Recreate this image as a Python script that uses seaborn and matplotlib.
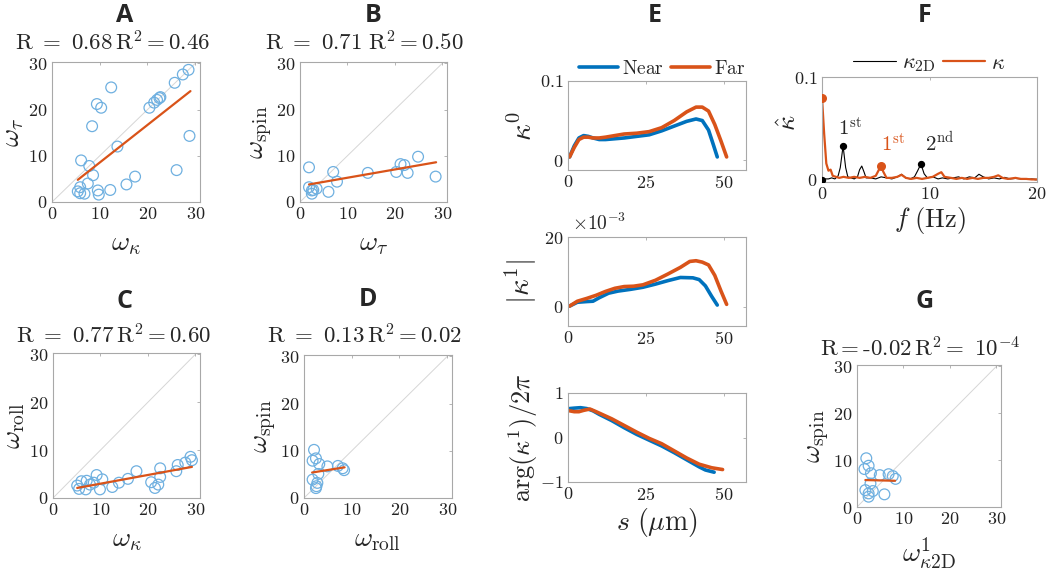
import numpy as np
import pandas as pd
import seaborn as sns
import matplotlib.pyplot as plt
from matplotlib.ticker import FuncFormatter

sns.set_style("white")
plt.rcParams['font.family'] = 'serif'
plt.rcParams['font.serif'] = ['cmr10', 'DejaVu Serif']
plt.rcParams['mathtext.fontset'] = 'cm'
plt.rcParams['axes.formatter.use_mathtext'] = True

BLUE = '#0072BD'
ORANGE = '#D95319'
CIRC = '#6fb0e0'

# ---------------- scatter panels (A-D, G)
a_x = [6.1, 7.8, 8.6, 7.5, 5.9, 5.4, 5.9, 6.8, 9.6, 9.8, 12.2, 13.7, 15.6, 17.4, 20.4, 21.4, 22.0, 22.5,
       22.7, 25.7, 27.4, 28.6, 26.1, 28.8, 9.4, 10.3, 12.4, 8.4]
a_y = [9.0, 7.8, 5.8, 4.0, 3.2, 2.3, 1.9, 1.8, 2.5, 1.6, 2.6, 12.0, 3.8, 5.5, 20.4, 21.5, 22.1, 22.5,
       22.7, 25.8, 27.6, 28.6, 6.9, 14.3, 21.2, 20.4, 24.8, 16.4]
a_fit_x = [5.4, 29.0]
a_fit_y = [4.8, 24.0]

b_x = [1.9, 1.9, 2.5, 2.5, 2.8, 3.5, 6.0, 7.0, 7.8, 14.3, 20.3, 21.2, 22.0, 22.7, 24.9, 28.6]
b_y = [7.5, 3.2, 2.5, 1.8, 2.6, 2.9, 2.2, 6.5, 4.4, 6.3, 6.5, 8.2, 8.0, 6.3, 9.8, 5.5]
b_fit_x = [1.9, 28.7]
b_fit_y = [3.8, 8.6]

c_x = [5.1, 5.5, 6.0, 6.9, 7.1, 7.8, 8.6, 9.2, 9.9, 10.4, 12.5, 13.9, 15.8, 17.6, 20.7, 21.5, 22.2,
       22.6, 22.6, 26.0, 26.3, 27.9, 29.0, 29.3]
c_y = [2.6, 1.9, 3.5, 1.8, 3.6, 2.8, 3.2, 4.8, 1.8, 3.9, 2.3, 3.2, 4.0, 5.6, 3.3, 2.1, 2.8,
       4.4, 6.2, 5.6, 6.9, 7.4, 8.6, 7.9]
c_fit_x = [5.1, 29.3]
c_fit_y = [2.1, 6.5]

d_x = [2.1, 2.5, 1.8, 3.2, 4.9, 7.1, 8.1, 8.4, 1.8, 2.8, 2.6, 2.5, 3.0]
d_y = [10.2, 8.4, 7.9, 7.2, 6.7, 6.8, 6.3, 5.9, 3.9, 3.2, 2.5, 2.1, 5.1]
d_fit_x = [1.7, 8.5]
d_fit_y = [5.4, 6.5]

g_x = [2.0, 2.5, 1.6, 3.0, 4.9, 6.8, 7.7, 8.3, 2.9, 1.8, 3.4, 2.5, 2.5, 5.9]
g_y = [10.4, 8.8, 8.1, 7.2, 6.8, 7.0, 6.6, 6.0, 5.0, 3.6, 3.4, 2.9, 2.2, 2.7]
g_fit_x = [1.8, 8.2]
g_fit_y = [5.75, 5.6]

# ---------------- panel E (curvature along s)
e1_near_s = [0.5, 2, 3.5, 5, 6.5, 8, 10, 12, 15, 18, 22, 26, 30, 34, 38, 41, 43, 45, 46.5, 47.8]
e1_near_v = [0.004, 0.018, 0.028, 0.031, 0.030, 0.028, 0.026, 0.026, 0.027, 0.028, 0.030, 0.032,
             0.037, 0.043, 0.049, 0.052, 0.050, 0.038, 0.020, 0.004]
e1_far_s = [0.5, 2, 3.5, 5, 6.5, 8, 10, 12, 15, 18, 22, 26, 30, 34, 38, 41, 43, 45, 47, 49, 50.8]
e1_far_v = [0.004, 0.016, 0.026, 0.029, 0.029, 0.028, 0.028, 0.029, 0.031, 0.033, 0.034, 0.036,
            0.041, 0.050, 0.061, 0.067, 0.067, 0.062, 0.045, 0.024, 0.004]

e2_near_s = [0.5, 3, 6, 8, 10, 13, 16, 20, 24, 28, 32, 36, 40, 42, 44, 46, 47.8]
e2_near_v = [0.2, 1.3, 1.5, 1.6, 2.6, 3.9, 4.5, 5.0, 5.6, 6.5, 7.5, 8.4, 8.3, 7.8, 6.0, 3.0, 0.5]
e2_far_s = [0.5, 3, 6, 9, 12, 15, 18, 21, 24, 28, 32, 36, 39, 41, 43, 45, 47, 49, 50.8]
e2_far_v = [0.2, 1.6, 2.4, 3.3, 4.4, 5.3, 5.8, 5.9, 6.3, 7.6, 9.4, 11.3, 13.0, 13.2, 12.8, 12.0,
            9.0, 4.5, 0.7]

e3_near_s = [0.5, 2, 4, 6, 8, 10, 14, 18, 22, 26, 30, 34, 38, 42, 44, 46.8]
e3_near_v = [0.65, 0.66, 0.67, 0.65, 0.60, 0.52, 0.38, 0.22, 0.07, -0.06, -0.19, -0.34, -0.50,
             -0.66, -0.73, -0.78]
e3_far_s = [0.5, 2, 3.5, 5, 7, 9, 14, 18, 22, 26, 30, 34, 38, 42, 46, 49.5]
e3_far_v = [0.60, 0.58, 0.58, 0.61, 0.64, 0.58, 0.42, 0.27, 0.12, -0.02, -0.14, -0.30, -0.46,
            -0.60, -0.68, -0.72]

# ---------------- panel F (spectra)
f_k2d = [0.0, 0.3, 0.6, 0.9, 1.2, 1.5, 1.7, 1.96, 2.2, 2.4, 2.7, 3.0, 3.3, 3.5, 3.7, 3.9, 4.1, 4.5,
         5.0, 5.5, 6.0, 6.5, 7.0, 7.4, 7.8, 8.2, 8.6, 8.9, 9.2, 9.5, 9.8, 10.3, 10.8, 11.2, 11.7,
         12.2, 12.7, 13.2, 13.7, 14.2, 14.6, 15.0, 15.5, 16.0, 16.5, 17.0, 17.5, 18.0, 18.5, 19.0,
         19.5, 20.0]
v_k2d = [0.000, 0.001, 0.001, 0.002, 0.001, 0.004, 0.012, 0.033, 0.012, 0.003, 0.002, 0.001, 0.003,
         0.010, 0.0135, 0.008, 0.002, 0.002, 0.001, 0.003, 0.002, 0.001, 0.003, 0.0055, 0.002,
         0.001, 0.003, 0.009, 0.0155, 0.006, 0.002, 0.003, 0.001, 0.002, 0.001, 0.002, 0.003, 0.001,
         0.003, 0.002, 0.0055, 0.003, 0.001, 0.002, 0.001, 0.0025, 0.001, 0.0015, 0.001, 0.0005,
         0.001, 0.0005]
f_k = [0.0, 0.2, 0.4, 0.6, 0.8, 1.0, 1.3, 1.6, 2.0, 2.5, 3.0, 3.5, 4.0, 4.5, 5.0, 5.3, 5.5, 5.7, 6.0,
       6.5, 7.0, 7.4, 7.8, 8.3, 8.8, 9.3, 9.8, 10.3, 10.8, 11.1, 11.4, 12.0, 12.5, 13.0, 13.5, 14.0,
       14.5, 15.0, 15.5, 16.0, 16.4, 16.8, 17.3, 18.0, 18.5, 19.0, 19.5, 20.0]
v_k = [0.080, 0.045, 0.016, 0.009, 0.010, 0.004, 0.003, 0.002, 0.003, 0.002, 0.003, 0.002, 0.003,
       0.002, 0.004, 0.010, 0.0135, 0.008, 0.002, 0.002, 0.003, 0.005, 0.002, 0.001, 0.002, 0.001,
       0.002, 0.003, 0.006, 0.0075, 0.003, 0.002, 0.001, 0.002, 0.001, 0.002, 0.001, 0.002, 0.002,
       0.003, 0.0045, 0.002, 0.001, 0.002, 0.001, 0.001, 0.0005, 0.0005]
peak_f_k2d = [0.0, 1.96, 9.2]
peak_v_k2d = [0.0, 0.033, 0.0155]
peak_f_k = [0.0, 5.5]
peak_v_k = [0.080, 0.0135]

W, H = 1050, 570
fig = plt.figure(figsize=(10.5, 5.7), dpi=100)
math_fmt = FuncFormatter(lambda v, p: '$%g$' % v)


def rect(l, t, r, b):
    return [l / W, 1 - b / H, (r - l) / W, (b - t) / H]


def style_ax(ax):
    for sp in ax.spines.values():
        sp.set_color('#a8a8a8')
        sp.set_linewidth(0.8)
    ax.tick_params(direction='in', length=2, width=0.6, color='#a8a8a8', top=True, right=True,
                   labelsize=13, pad=3, labelcolor='#222222')
    ax.xaxis.set_major_formatter(math_fmt)
    ax.yaxis.set_major_formatter(math_fmt)


def scatter_panel(box, x, y, fx, fy, xlab, ylab):
    ax = fig.add_axes(rect(*box))
    ax.axline((0, 0), slope=1, color='#d6d6d6', lw=0.7, zorder=0)
    sns.scatterplot(x=x, y=y, ax=ax, s=60, facecolors='none', edgecolor=CIRC, linewidth=0.9)
    sns.lineplot(x=fx, y=fy, ax=ax, color=ORANGE, lw=1.6)
    ax.set_xlim(0, 31)
    ax.set_ylim(0, 30.3)
    ax.set_xticks([0, 10, 20, 30])
    ax.set_yticks([0, 10, 20, 30])
    ax.set_xlabel(xlab, fontsize=20, labelpad=6)
    ax.set_ylabel(ylab, fontsize=20, labelpad=2)
    style_ax(ax)
    return ax


scatter_panel((52, 62, 200, 202), a_x, a_y, a_fit_x, a_fit_y, r'$\omega_\kappa$', r'$\omega_\tau$')
scatter_panel((300, 62, 447, 202), b_x, b_y, b_fit_x, b_fit_y, r'$\omega_\tau$', r'$\omega_{\rm spin}$')
scatter_panel((53, 353, 200, 498), c_x, c_y, c_fit_x, c_fit_y, r'$\omega_\kappa$', r'$\omega_{\rm roll}$')
scatter_panel((304, 355, 452, 498), d_x, d_y, d_fit_x, d_fit_y, r'$\omega_{\rm roll}$', r'$\omega_{\rm spin}$')
scatter_panel((857, 365, 1001, 507), g_x, g_y, g_fit_x, g_fit_y, r'$\omega^1_{\kappa2{\rm D}}$',
              r'$\omega_{\rm spin}$')

# ---------------- E
e_axes = []
for box in [(568, 81, 746, 170), (568, 237, 746, 326), (568, 393, 746, 482)]:
    e_axes.append(fig.add_axes(rect(*box)))
e1, e2, e3 = e_axes
for ax, (ns, nv, fs, fv) in zip(e_axes, [(e1_near_s, e1_near_v, e1_far_s, e1_far_v),
                                         (e2_near_s, e2_near_v, e2_far_s, e2_far_v),
                                         (e3_near_s, e3_near_v, e3_far_s, e3_far_v)]):
    sns.lineplot(x=ns, y=nv, ax=ax, color=BLUE, lw=2.6, label=r'$\mathrm{Near}$')
    sns.lineplot(x=fs, y=fv, ax=ax, color=ORANGE, lw=2.6, label=r'$\mathrm{Far}$')
    ax.set_xlim(0, 57)
    ax.set_xticks([0, 25, 50])
    style_ax(ax)
e1.set_ylim(-0.0125, 0.1)
e1.set_yticks([0, 0.1])
e1.set_ylabel(r'$\kappa^0$', fontsize=21, labelpad=2)
e1.legend(loc='lower center', bbox_to_anchor=(0.53, 0.93), ncol=2, frameon=False, fontsize=14,
          handlelength=2.0, handletextpad=0.2, columnspacing=0.4, borderaxespad=0.1)
e2.set_ylim(-5.5, 20)
e2.set_yticks([0, 20])
e2.set_ylabel(r'$|\kappa^1|$', fontsize=21, labelpad=4)
e2.text(0.02, 1.03, r'$\times 10^{-3}$', transform=e2.transAxes, fontsize=14, va='bottom')
e2.get_legend().remove()
e3.set_ylim(-1, 1)
e3.set_yticks([-1, 0, 1])
e3.set_ylabel(r'$\arg(\kappa^1)/2\pi$', fontsize=19, labelpad=0)
e3.set_xlabel(r'$s\ (\mathrm{\mu m})$', fontsize=20, labelpad=2)
e3.get_legend().remove()

# ---------------- F
axf = fig.add_axes(rect(822, 77, 1037, 182))
sns.lineplot(x=f_k2d, y=v_k2d, ax=axf, color='black', lw=0.8, label=r'$\kappa_{\rm 2D}$')
sns.lineplot(x=f_k, y=v_k, ax=axf, color=ORANGE, lw=1.6, label=r'$\kappa$')
axf.scatter(peak_f_k2d, peak_v_k2d, color='black', s=18, zorder=5)
axf.scatter(peak_f_k, peak_v_k, color=ORANGE, s=30, zorder=5)
axf.text(2.6, 0.040, r'$1^{\rm st}$', fontsize=15, ha='center', va='bottom')
axf.text(6.6, 0.024, r'$1^{\rm st}$', fontsize=15, ha='center', va='bottom', color=ORANGE)
axf.text(10.9, 0.025, r'$2^{\rm nd}$', fontsize=15, ha='center', va='bottom')
axf.set_xlim(0, 20)
axf.set_ylim(-0.002, 0.1)
axf.set_xticks([0, 10, 20])
axf.set_yticks([0, 0.1])
axf.set_xlabel(r'$f\ (\mathrm{Hz})$', fontsize=19, labelpad=2)
axf.set_ylabel(r'$\hat{\kappa}$', fontsize=19)
axf.yaxis.set_label_coords(-0.10, 0.56)
axf.legend(loc='lower center', bbox_to_anchor=(0.5, 0.92), ncol=2, frameon=False, fontsize=16,
           handlelength=1.9, handletextpad=0.3, columnspacing=0.3, borderaxespad=0.1)
style_ax(axf)

# ---------------- panel letters and titles
letters = [('A', 125, 15), ('B', 373, 15), ('C', 124, 302), ('D', 368, 300), ('E', 655, 15),
           ('F', 925, 15), ('G', 925, 302)]
for s, x, y in letters:
    fig.text(x / W, 1 - y / H, s, fontsize=18, fontweight='bold', family='Open Sans',
             ha='center', va='center')

titles = [(r'$\mathrm{R}\ =\ 0.68\,\mathrm{R}^2 = 0.46$', 113, 42),
          (r'$\mathrm{R}\ =\ 0.71\ \mathrm{R}^2 = 0.50$', 364, 42),
          (r'$\mathrm{R}\ =\ 0.77\,\mathrm{R}^2 = 0.60$', 114, 335),
          (r'$\mathrm{R}\ =\ 0.13\,\mathrm{R}^2 = 0.02$', 364, 335),
          (r'$\mathrm{R} = $-$0.02\,\mathrm{R}^2 =\ 10^{-4}$', 920, 348)]
for s, x, y in titles:
    fig.text(x / W, 1 - y / H, s, fontsize=16.5, ha='center', va='center')

fig.savefig('out.png', dpi=100)
